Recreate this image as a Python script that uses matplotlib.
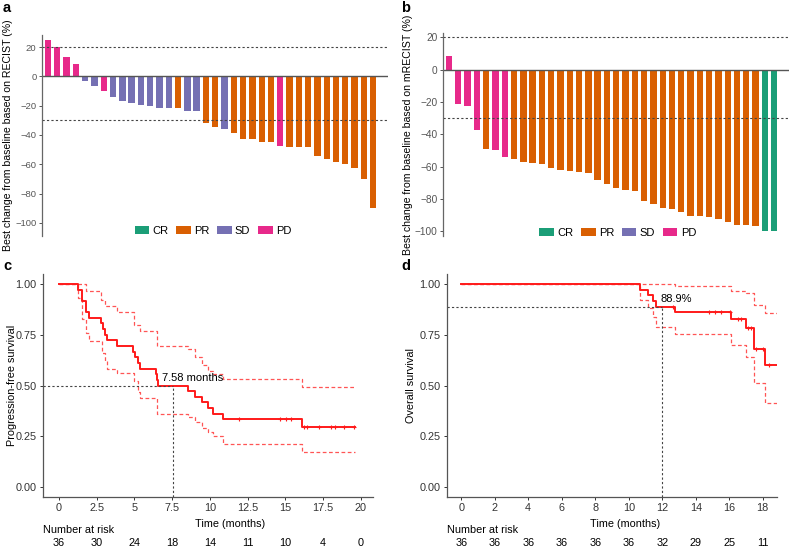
import matplotlib
matplotlib.use("Agg")
import matplotlib.pyplot as plt
import matplotlib.transforms as mtrans
from matplotlib.patches import Patch
import numpy as np

plt.rcParams['font.family'] = ['Liberation Sans', 'DejaVu Sans']

# ---- waterfall data ----
resp_colors = {'CR': '#1B9E77', 'PR': '#D95F02', 'SD': '#7570B3', 'PD': '#E7298A'}
resp_order = ['CR', 'PR', 'SD', 'PD']

recist_resp = ['PD', 'PD', 'PD', 'PD', 'SD', 'SD', 'PD', 'SD', 'SD', 'SD', 'SD', 'SD', 'SD', 'SD',
               'PR', 'SD', 'SD', 'PR', 'PR', 'SD', 'PR', 'PR', 'PR', 'PR', 'PR', 'PD',
               'PR', 'PR', 'PR', 'PR', 'PR', 'PR', 'PR', 'PR', 'PR', 'PR']
recist_change = [25, 20, 13.4, 8.6, -3, -6.8, -10.2, -14.3, -17, -18.2, -19.3, -20, -21.6, -21.8,
                 -21.8, -23.4, -23.9, -32, -34.5, -35.7, -38.4, -42.7, -42.9, -45.1, -45.1, -47.3,
                 -48, -48.2, -48.2, -54.4, -56.7, -58.4, -60, -62.4, -70, -90.2]

mrecist_resp = ['PD', 'PD', 'PD', 'PD', 'PR', 'PD', 'PD',
                'PR', 'PR', 'PR', 'PR', 'PR', 'PR', 'PR', 'PR', 'PR', 'PR',
                'PR', 'PR', 'PR', 'PR', 'PR', 'PR', 'PR', 'PR', 'PR', 'PR',
                'PR', 'PR', 'PR', 'PR', 'PR', 'PR', 'PR', 'CR', 'CR']
mrecist_change = [8.7, -21.2, -22.5, -37.1, -48.8, -49.6, -54,
                  -55.2, -57.1, -57.7, -58.3, -60.8, -62.1, -62.7, -63.1, -63.8, -67.9,
                  -70.6, -72.9, -74.6, -75, -81, -83.3, -85.4, -86, -87.9, -90.2,
                  -90.4, -91, -92.1, -94, -95.8, -96, -96.5, -100, -100]

# ---- PFS (panel c) ----
pfs_t = [0, 1.25, 1.5, 1.8, 2.0, 2.75, 2.9, 3.05, 3.15, 3.85, 4.9, 5.05, 5.2, 5.35, 6.45, 6.5,
         6.55, 8.55, 9.0, 9.5, 9.85, 10.2, 10.85, 16.1, 19.6]
pfs_s = [1, 0.972, 0.917, 0.861, 0.833, 0.806, 0.778, 0.75, 0.722, 0.694, 0.667, 0.639, 0.611,
         0.583, 0.556, 0.528, 0.5, 0.472, 0.444, 0.417, 0.389, 0.361, 0.333, 0.296, 0.296]
pfs_up_t = [0, 1.8, 2.8, 3.05, 3.85, 4.95, 5.35, 6.5, 8.55, 9.0, 9.5, 9.85, 10.2, 10.85, 16.1, 19.6]
pfs_up = [1, 0.967, 0.92, 0.89, 0.864, 0.80, 0.77, 0.695, 0.68, 0.64, 0.60, 0.57, 0.555, 0.533,
          0.495, 0.495]
pfs_lo_t = [0, 1.25, 1.5, 1.8, 2.0, 2.85, 3.05, 3.15, 3.85, 4.95, 5.2, 5.35, 6.5, 8.55, 9.0, 9.5,
            9.85, 10.2, 10.85, 16.1, 19.6]
pfs_lo = [1, 0.93, 0.83, 0.76, 0.72, 0.66, 0.62, 0.58, 0.56, 0.52, 0.47, 0.44, 0.36, 0.345, 0.32,
          0.29, 0.27, 0.25, 0.212, 0.172, 0.172]
pfs_censor = [11.95, 14.65, 15.05, 15.4, 16.2, 16.45, 17.2, 18.0, 18.3, 18.85, 19.55]
pfs_ticks = [0, 2.5, 5, 7.5, 10, 12.5, 15, 17.5, 20]
pfs_risk = [36, 30, 24, 18, 14, 11, 10, 4, 0]
pfs_median = 7.58

# ---- OS (panel d) ----
os_t = [0, 10.7, 11.15, 11.45, 11.6, 12.75, 16.1, 17.0, 17.45, 18.15, 18.9]
os_s = [1, 0.972, 0.944, 0.917, 0.889, 0.861, 0.828, 0.783, 0.68, 0.602, 0.602]
os_up_t = [0, 12.75, 16.1, 17.0, 17.45, 18.15, 18.9]
os_up = [1, 0.99, 0.968, 0.955, 0.895, 0.86, 0.86]
os_lo_t = [0, 10.7, 11.15, 11.45, 11.6, 12.75, 16.1, 17.0, 17.45, 18.15, 18.9]
os_lo = [1, 0.92, 0.88, 0.84, 0.79, 0.752, 0.70, 0.64, 0.51, 0.415, 0.415]
os_censor = [12.65, 14.8, 15.15, 15.5, 16.05, 16.5, 16.7, 17.1, 17.3, 17.6, 18.0, 18.4]
os_ticks = [0, 2, 4, 6, 8, 10, 12, 14, 16, 18]
os_risk = [36, 36, 36, 36, 36, 36, 32, 29, 25, 11]
os_12m = 12
os_12m_rate = 0.889

W, H = 789, 548
fig = plt.figure(figsize=(W / 100, H / 100), dpi=100)


def px_axes(l, t, r, b):
    return fig.add_axes([l / W, 1 - b / H, (r - l) / W, (b - t) / H])


def waterfall(ax, vals, resp, ylim, ylabel, tick_fs, leg_xy, ylab_x):
    x = np.arange(1, len(vals) + 1)
    ax.bar(x, vals, width=0.68, color=[resp_colors[r] for r in resp], edgecolor='none')
    ax.axhline(0, color='#555555', lw=1.0)
    for ref in (20, -30):
        ax.axhline(ref, color='#444444', lw=0.8, ls=(0, (2, 2)))
    ax.set_xlim(0.35, 37.6)
    ax.set_ylim(*ylim)
    ax.set_yticks([-100, -80, -60, -40, -20, 0, 20])
    ax.set_xticks([])
    for s in ('top', 'right', 'bottom'):
        ax.spines[s].set_visible(False)
    ax.spines['left'].set_color('#666666')
    ax.spines['left'].set_linewidth(0.9)
    ax.tick_params(axis='y', labelsize=tick_fs, colors='#555555', length=2.5, width=0.7, pad=1.5)
    ax.set_ylabel(ylabel, fontsize=7.6)
    ax.yaxis.set_label_coords(ylab_x, 0.5)
    handles = [Patch(facecolor=resp_colors[k], edgecolor='none', label=k) for k in resp_order]
    ax.legend(handles=handles, ncol=4, loc='center', bbox_to_anchor=leg_xy, frameon=False,
              fontsize=8, handlelength=1.3, handleheight=0.75, handletextpad=0.3,
              columnspacing=0.7, borderpad=0)


def km(ax, t, s, up_t, up, lo_t, lo, censor, ticks, risk, xlim, ylabel, xlab_x, ylab_x):
    ax.step(up_t, up, where='post', color='#FF5555', lw=0.9, ls=(0, (3, 2)))
    ax.step(lo_t, lo, where='post', color='#FF5555', lw=0.9, ls=(0, (3, 2)))
    ax.step(t, s, where='post', color='#FF1A1A', lw=1.4)
    idx = np.searchsorted(t, censor, side='right') - 1
    ax.plot(censor, np.array(s)[idx], ls='none', marker='+', color='#FF1A1A', ms=3.5, mew=0.8)
    ax.set_xlim(*xlim)
    ax.set_ylim(-0.05, 1.05)
    ax.set_xticks(ticks)
    ax.set_xticklabels([('%g' % v) for v in ticks])
    ax.set_yticks([0, 0.25, 0.5, 0.75, 1.0])
    ax.set_yticklabels(['0.00', '0.25', '0.50', '0.75', '1.00'])
    for sp in ('top', 'right'):
        ax.spines[sp].set_visible(False)
    for sp in ('left', 'bottom'):
        ax.spines[sp].set_color('#555555')
        ax.spines[sp].set_linewidth(0.9)
    ax.tick_params(labelsize=7.8, colors='#333333', length=2.5, width=0.7, pad=2)
    ax.set_xlabel('Time (months)', fontsize=7.8)
    ax.xaxis.set_label_coords(xlab_x, -0.098)
    ax.set_ylabel(ylabel, fontsize=7.8)
    ax.yaxis.set_label_coords(ylab_x, 0.5)
    tr = mtrans.blended_transform_factory(ax.transData, ax.transAxes)
    ax.text(0, -0.148, 'Number at risk', transform=ax.transAxes, fontsize=7.8,
            ha='left', va='center')
    for tk, n in zip(ticks, risk):
        ax.text(tk, -0.206, str(n), transform=tr, fontsize=7.8, ha='center', va='center')


# panel a
ax_a = px_axes(42, 35, 388, 236)
waterfall(ax_a, recist_change, recist_resp, (-109, 28.2),
          'Best change from baseline based on RECIST (%)', 6.8, (0.494, 0.025), -0.084)

# panel b
ax_b = px_axes(443, 33, 789, 236)
waterfall(ax_b, mrecist_change, mrecist_resp, (-102.8, 22.7),
          'Best change from baseline based on mRECIST (%)', 7.3, (0.505, 0.015), -0.088)

# panel c
ax_c = px_axes(43, 274, 373, 497)
km(ax_c, pfs_t, pfs_s, pfs_up_t, pfs_up, pfs_lo_t, pfs_lo, pfs_censor, pfs_ticks, pfs_risk,
   (-1.06, 20.8), 'Progression-free survival', 0.567, -0.079)
ax_c.plot([-1.06, pfs_median], [0.5, 0.5], color='#444444', lw=0.8, ls=(0, (2, 2)))
ax_c.plot([pfs_median, pfs_median], [-0.05, 0.5], color='#444444', lw=0.8, ls=(0, (2, 2)))
ax_c.text(6.85, 0.535, '%.2f months' % pfs_median, fontsize=8, ha='left', va='center')

# panel d
ax_d = px_axes(447, 274, 777, 497)
km(ax_d, os_t, os_s, os_up_t, os_up, os_lo_t, os_lo, os_censor, os_ticks, os_risk,
   (-0.85, 18.85), 'Overall survival', 0.539, -0.094)
ax_d.plot([-0.85, os_12m], [os_12m_rate, os_12m_rate], color='#444444', lw=0.8, ls=(0, (2, 2)))
ax_d.plot([os_12m, os_12m], [-0.05, os_12m_rate], color='#444444', lw=0.8, ls=(0, (2, 2)))
ax_d.text(11.9, 0.925, '%.1f%%' % (os_12m_rate * 100), fontsize=8, ha='left', va='center')

for lab, (x, y) in zip('abcd', [(3, 8), (401, 8), (3, 266), (401, 266)]):
    fig.text(x / W, 1 - y / H, lab, fontsize=10.5, fontweight='bold', ha='left', va='center')

fig.savefig('out.png', dpi=100)
